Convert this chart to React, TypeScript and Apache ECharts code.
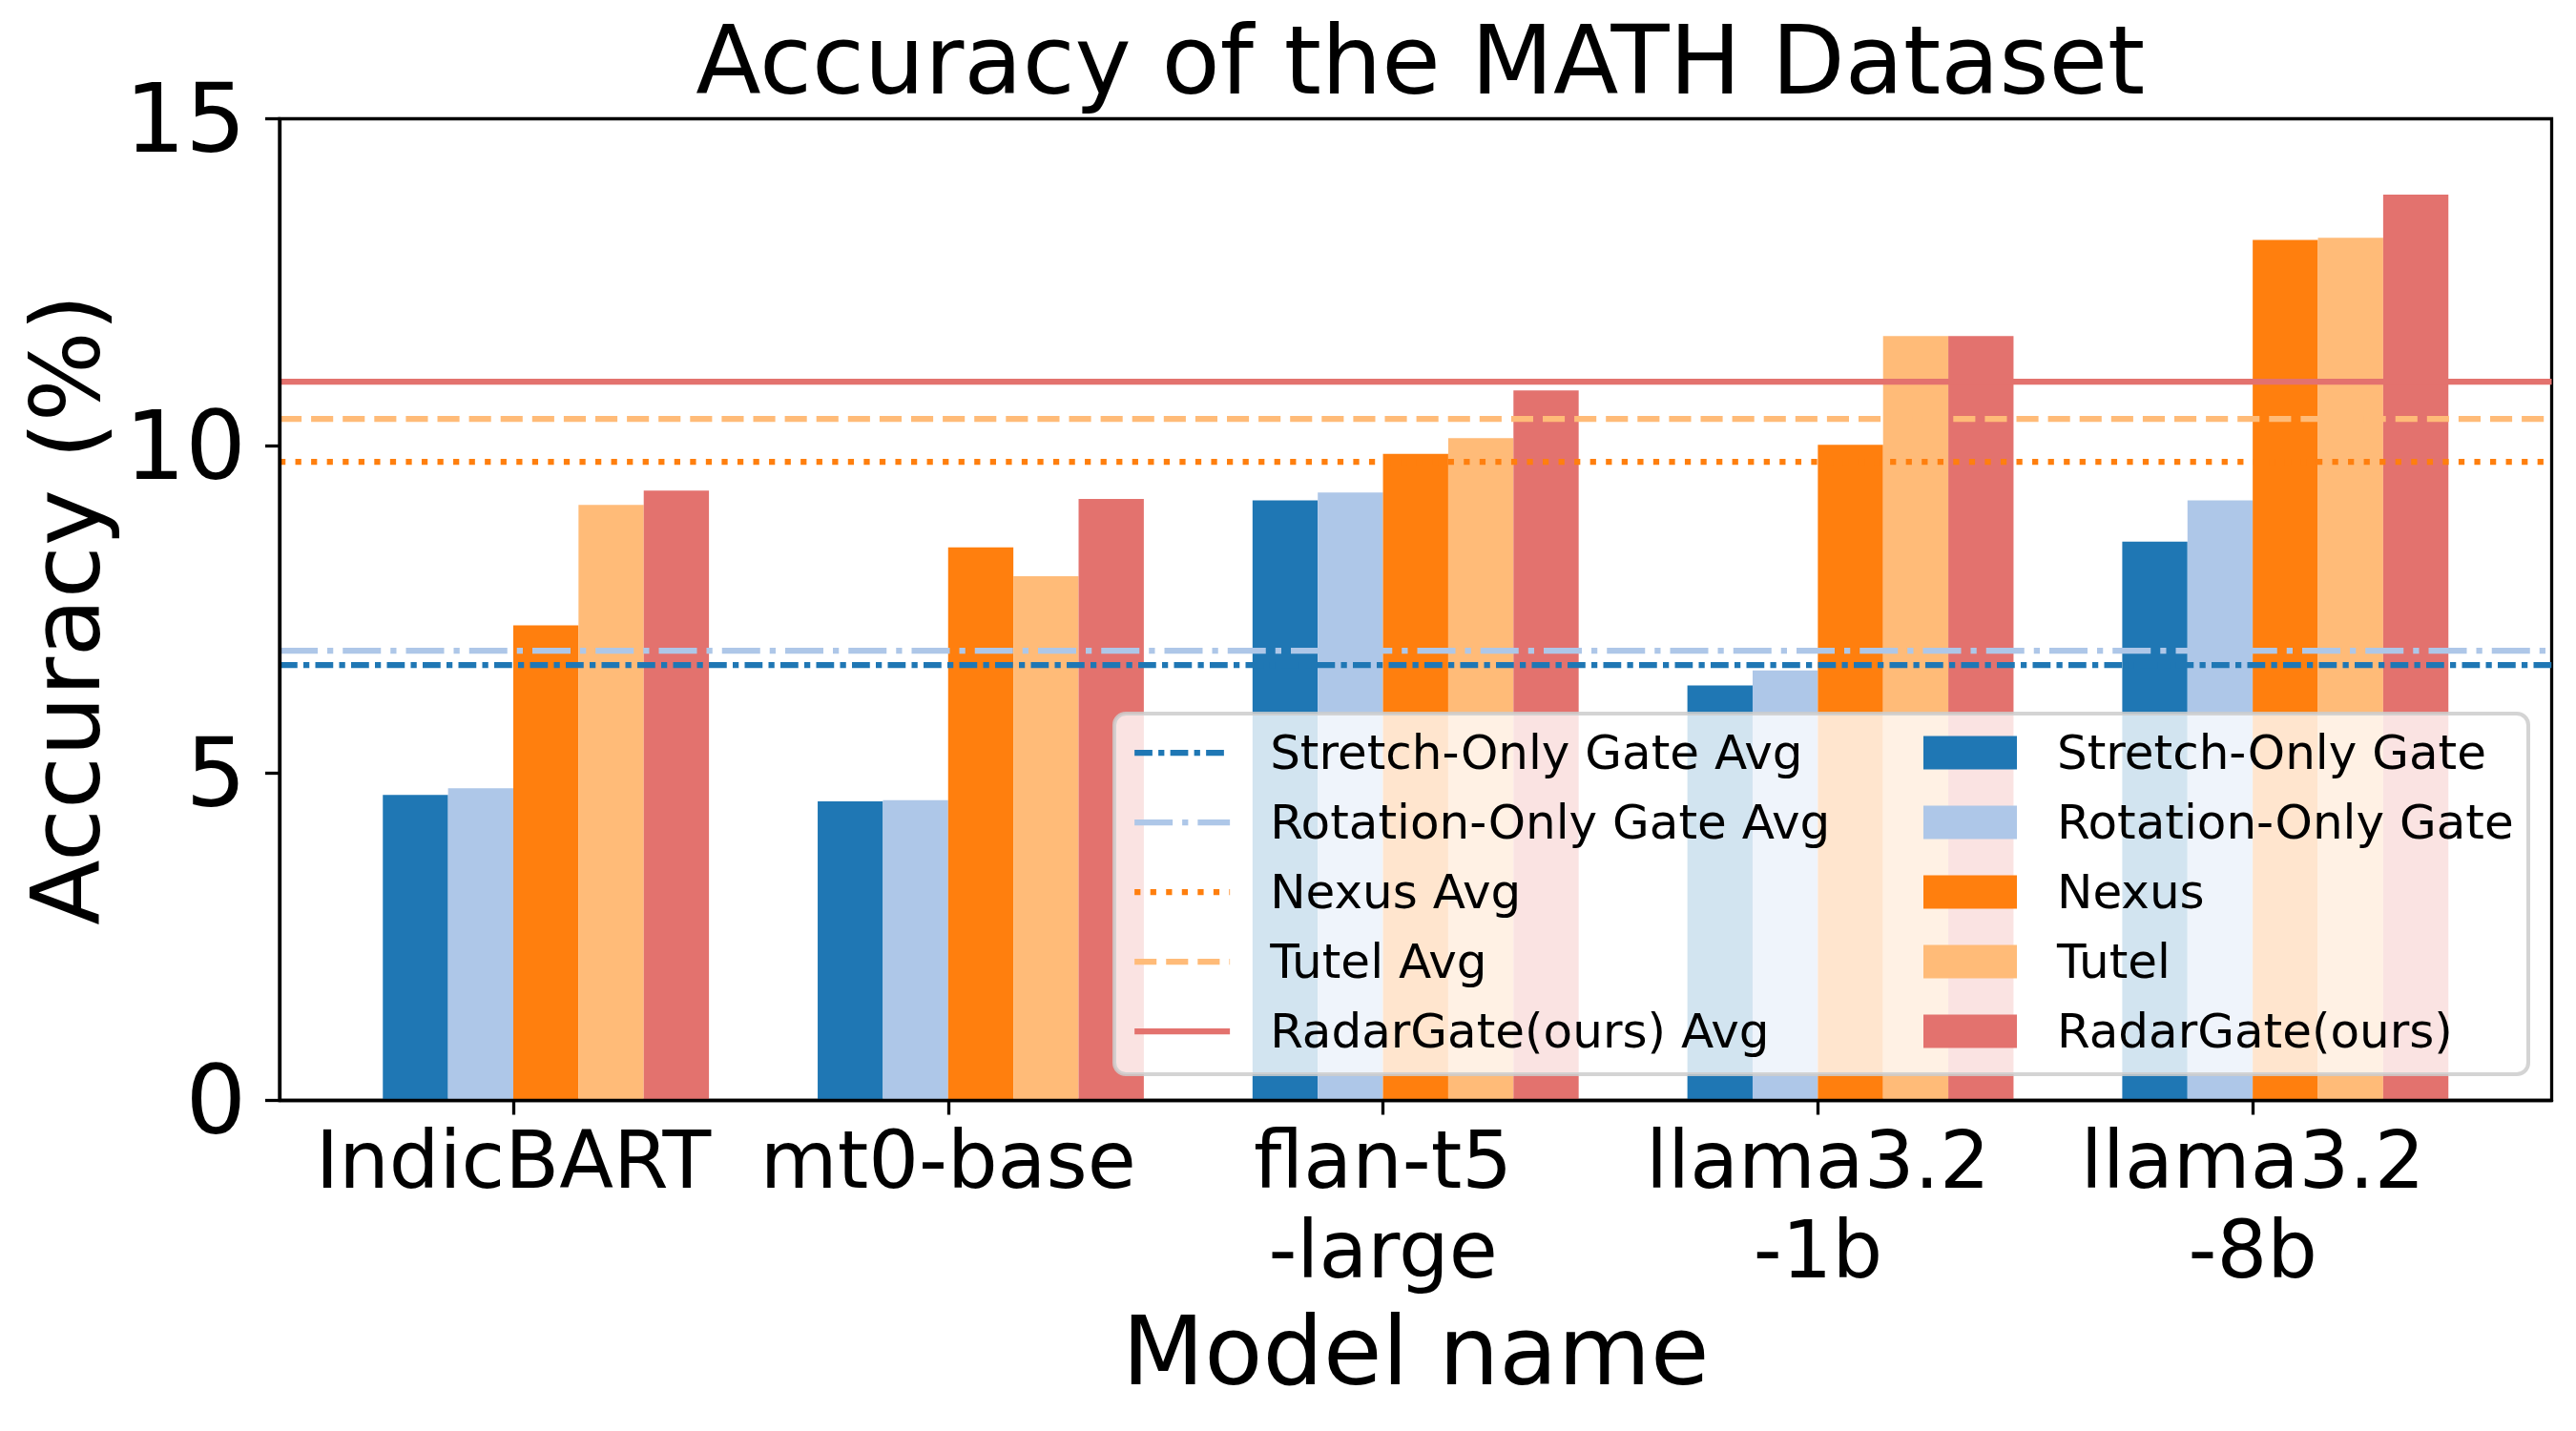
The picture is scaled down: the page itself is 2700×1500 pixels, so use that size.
import React, { useEffect, useRef } from "react";
import * as echarts from "echarts";

// ---------- data ----------
const categories = ["IndicBART", "mt0-base", "flan-t5\n-large", "llama3.2\n-1b", "llama3.2\n-8b"];
const barNames = ["Stretch-Only Gate", "Rotation-Only Gate", "Nexus", "Tutel", "RadarGate(ours)"];
const stretchOnly = [4.67, 4.57, 9.17, 6.34, 8.54];
const rotationOnly = [4.77, 4.59, 9.29, 6.57, 9.17];
const nexus = [7.26, 8.45, 9.88, 10.02, 13.15];
const tutel = [9.1, 8.01, 10.12, 11.68, 13.18];
const radarGate = [9.32, 9.19, 10.85, 11.68, 13.84];
const avgNames = [
  "Stretch-Only Gate Avg",
  "Rotation-Only Gate Avg",
  "Nexus Avg",
  "Tutel Avg",
  "RadarGate(ours) Avg",
];
const avgValues = [6.66, 6.88, 9.77, 10.42, 10.99];
const yTicks = [0, 5, 10, 15];

// ---------- styles ----------
const colors = ["#1f77b4", "#aec7e8", "#ff7f0e", "#ffbb78", "#e3726e"];
const dashes: (number[] | string)[] = [
  [18.75, 6.25, 6.25, 6.25],
  [40, 10, 6.25, 10],
  [6.25, 10.3],
  [23.1, 10],
  "solid",
];
const FONT = "DejaVu Sans";
const X_MIN = -0.5375;
const X_MAX = 4.6875;
const BAR_UNITS = 0.15;
const GRID = { left: 293, right: 25.5, top: 124.5, bottom: 346.5 };
const W = 2700;
const H = 1500;
const LW = 6.25;

export default function App() {
  const ref = useRef<HTMLDivElement>(null);
  useEffect(() => {
    if (!ref.current) return;
    const chart = echarts.init(ref.current, undefined, { renderer: "svg" });
    const plotW = W - GRID.left - GRID.right;
    const pxPerUnit = plotW / (X_MAX - X_MIN);
    const barWidth = BAR_UNITS * pxPerUnit;
    const barSeriesValues = [stretchOnly, rotationOnly, nexus, tutel, radarGate];

    const barSeries = barSeriesValues.map((vals, k) => ({
      type: "bar",
      name: barNames[k],
      xAxisIndex: 0,
      yAxisIndex: 0,
      barWidth,
      barGap: "-100%",
      z: 2,
      itemStyle: { color: colors[k] },
      data: vals.map((v, i) => [i + (k - 1.5) * BAR_UNITS, v]),
    }));

    const lineSeries = avgValues.map((v, k) => ({
      type: "line",
      name: avgNames[k],
      symbol: "none",
      showSymbol: false,
      z: 3,
      itemStyle: { color: colors[k] },
      lineStyle: { color: colors[k], width: LW, type: dashes[k] },
      data: [],
      markLine: {
        silent: true,
        symbol: "none",
        z: 3,
        label: { show: false },
        lineStyle: { color: colors[k], width: LW, type: dashes[k], opacity: 1 },
        emphasis: { disabled: true },
        data: [{ yAxis: v }],
      },
    }));

    const legendCommon = {
      orient: "vertical",
      padding: 0,
      itemHeight: 35,
      itemGap: 23,
      selectedMode: false,
      z: 20,
      textStyle: {
        fontFamily: FONT,
        fontSize: 50,
        lineHeight: 50,
        color: "#000",
        padding: [0, 0, 0, 37],
      },
    };

    chart.setOption({
      animation: false,
      textStyle: { fontFamily: FONT },
      title: {
        text: "Accuracy of the MATH Dataset",
        left: (GRID.left + (W - GRID.right)) / 2,
        textAlign: "center",
        top: 8,
        textStyle: { fontFamily: FONT, fontSize: 100, fontWeight: "normal", color: "#000" },
      },
      grid: {
        ...GRID,
        show: true,
        borderColor: "#000",
        borderWidth: 3.3,
        outerBoundsMode: "none",
      },
      legend: [
        {
          ...legendCommon,
          left: 1186,
          top: 764,
          itemWidth: 100,
          itemStyle: { opacity: 0 },
          lineStyle: { width: LW, type: "inherit" },
          data: avgNames,
        },
        {
          ...legendCommon,
          left: 2016,
          top: 764,
          itemWidth: 98,
          icon: "rect",
          data: barNames,
        },
      ],
      graphic: [
        {
          type: "rect",
          z: 10,
          shape: { x: 1168, y: 748, width: 1482, height: 378, r: 12 },
          style: { fill: "rgba(255,255,255,0.8)", stroke: "rgba(204,204,204,0.85)", lineWidth: 4 },
        },
      ],
      xAxis: {
        type: "value",
        min: X_MIN,
        max: X_MAX,
        z: 10,
        name: "Model name",
        nameLocation: "middle",
        nameGap: 213,
        nameTextStyle: { fontFamily: FONT, fontSize: 100, color: "#000", lineHeight: 100 },
        splitLine: { show: false },
        axisLine: { show: true, onZero: false, lineStyle: { color: "#000", width: 3.3 } },
        axisTick: {
          show: true,
          inside: false,
          length: 15,
          lineStyle: { color: "#000", width: 3.3 },
          customValues: categories.map((_, i) => i),
        },
        axisLabel: {
          show: true,
          margin: 16,
          fontFamily: FONT,
          fontSize: 83,
          lineHeight: 94,
          color: "#000",
          customValues: categories.map((_, i) => i),
          formatter: (v: number) => categories[Math.round(v)] ?? "",
        },
      },
      yAxis: {
        type: "value",
        min: yTicks[0],
        max: yTicks[yTicks.length - 1],
        interval: 5,
        z: 10,
        name: "Accuracy (%)",
        nameLocation: "middle",
        nameGap: 162,
        nameTextStyle: { fontFamily: FONT, fontSize: 100, color: "#000", lineHeight: 100 },
        splitLine: { show: false },
        axisLine: { show: true, onZero: false, lineStyle: { color: "#000", width: 3.3 } },
        axisTick: { show: true, inside: false, length: 15, lineStyle: { color: "#000", width: 3.3 } },
        axisLabel: { margin: 35, fontFamily: FONT, fontSize: 100, color: "#000" },
      },
      series: [...barSeries, ...lineSeries],
    });
    return () => chart.dispose();
  }, []);
  return (
    <div
      ref={ref}
      style={{ position: "fixed", left: 0, top: 0, width: W, height: H, background: "#fff" }}
    />
  );
}
